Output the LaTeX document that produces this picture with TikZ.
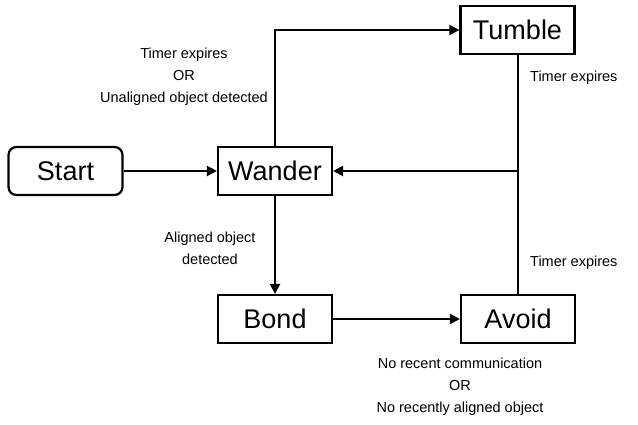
\documentclass[tikz,border=0pt]{standalone}
\usepackage{fontspec}
\setmainfont{Liberation Sans}
\usetikzlibrary{arrows.meta}
\begin{document}
\begin{tikzpicture}[x=1pt,y=-1pt,
  state/.style={draw, line width=2.2pt, minimum width=114pt, minimum height=48pt, inner sep=0pt,
    font=\fontsize{27}{30}\selectfont},
  startstate/.style={state, rounded corners=8pt},
  conn/.style={line width=2.2pt},
  arr/.style={conn, -{Triangle[length=10pt,width=10pt]}},
  lbl/.style={align=center, inner sep=0pt, font=\fontsize{14.5}{22}\selectfont}]
\useasboundingbox (0,0) rectangle (638,424);
\node[startstate] (start) at (65.5,171) {Start};
\node[state] (wander) at (275,171) {Wander};
\node[state] (tumble) at (517.5,30) {Tumble};
\node[state] (bond) at (275,319) {Bond};
\node[state] (avoid) at (518,319) {Avoid};
\coordinate (j) at (518,171);
\draw[arr] (start) -- (wander);
\draw[arr] (wander.north) |- (tumble.west);
\draw[arr] (tumble.south -| j) -- (j) -- (wander.east);
\draw[conn] (avoid.north) -- (j);
\draw[arr] (wander) -- (bond);
\draw[arr] (bond) -- (avoid);
\node[lbl] (l1) at (184,77) {Timer expires\\OR\\Unaligned object detected};
\node[lbl, anchor=west] (l2) at (530,78) {Timer expires};
\node[lbl, anchor=west] (l3) at (530,263) {Timer expires};
\node[lbl] (l4) at (210,248) {Aligned object\\detected};
\node[lbl] (l5) at (460,387) {No recent communication\\OR\\No recently aligned object};
\end{tikzpicture}
\end{document}
